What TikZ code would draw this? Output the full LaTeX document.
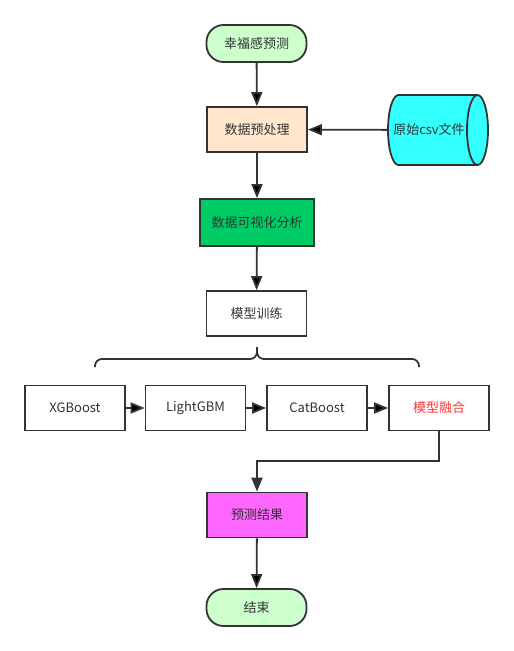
\documentclass[tikz,border=0pt]{standalone}
\usepackage{fontspec}
\usepackage{tikz}
\usetikzlibrary{arrows.meta}
\newfontfamily\cjk{Noto Sans CJK SC}
\definecolor{linegray}{HTML}{333333}
\definecolor{termgreen}{HTML}{CCFFCC}
\definecolor{prepfill}{HTML}{FFE6CC}
\definecolor{visgreen}{HTML}{00CC66}
\definecolor{cylcyan}{HTML}{33FFFF}
\definecolor{resmagenta}{HTML}{FF66FF}
\definecolor{fusered}{HTML}{FF3333}

\begin{document}
\begin{tikzpicture}[x=1pt,y=-1pt,line width=1.8pt,>={Triangle[length=14pt,width=11pt]}]
			\tikzstyle{every node}=[font=\cjk\fontsize{13}{15}\selectfont,text=linegray]
			\tikzstyle{box}=[draw=linegray,minimum width=100pt,minimum height=45pt,inner sep=0pt]
			\tikzstyle{term}=[box,rounded corners=17pt,minimum height=37pt,fill=termgreen]
			\tikzstyle{conn}=[draw=linegray,->]

			\useasboundingbox (0,0) rectangle (514,651);

			% csv cylinder, drawn by hand
			\draw[linegray,fill=cylcyan] (477.5,95) -- (398.5,95)
				arc[start angle=270,end angle=90,x radius=10.5,y radius=35] -- (477.5,165);
			\draw[linegray,fill=cylcyan] (477.5,130) ellipse[x radius=10.5,y radius=35];

			\node[term] (start) at (256.5,43.5) {幸福感预测};
			\node[box,fill=prepfill] (prep) at (257,129.5) {数据预处理};
			\node[minimum width=100pt,minimum height=70pt,inner sep=0pt] (csv) at (438,130) {};
			\node at (429,130) {原始csv文件};
			\node[box,fill=visgreen,minimum width=114pt,minimum height=47pt] (vis) at (257,222.5) {数据可视化分析};
			\node[box] (train) at (256.5,313.5) {模型训练};

			\node[box] (xg) at (75,408) {XGBoost};
			\node[box] (lgbm) at (195.5,408) {LightGBM};
			\node[box] (cat) at (317,408) {CatBoost};
			\node[box,text=fusered] (fuse) at (439,408) {模型融合};

			\node[box,fill=resmagenta] (result) at (257,515) {预测结果};
			\node[term] (finish) at (256.5,607.5) {结束};

			\coordinate (bend) at (439,461);

			% brace over the models
			\draw[linegray,rounded corners=7pt] (95,367) -- (95,359) -- (257,359) -- (257,347);
			\draw[linegray,rounded corners=7pt] (419,367) -- (419,359) -- (257,359) -- (257,347);

			\path[conn]
				(start) edge (prep)
				(csv) edge (prep)
				(prep) edge (vis)
				(vis) edge (train)
				(xg) edge (lgbm)
				(lgbm) edge (cat)
				(cat) edge (fuse)
				(result) edge (finish);
			\draw[conn] (fuse) -- (bend) -| (result);
		\end{tikzpicture}
\end{document}
